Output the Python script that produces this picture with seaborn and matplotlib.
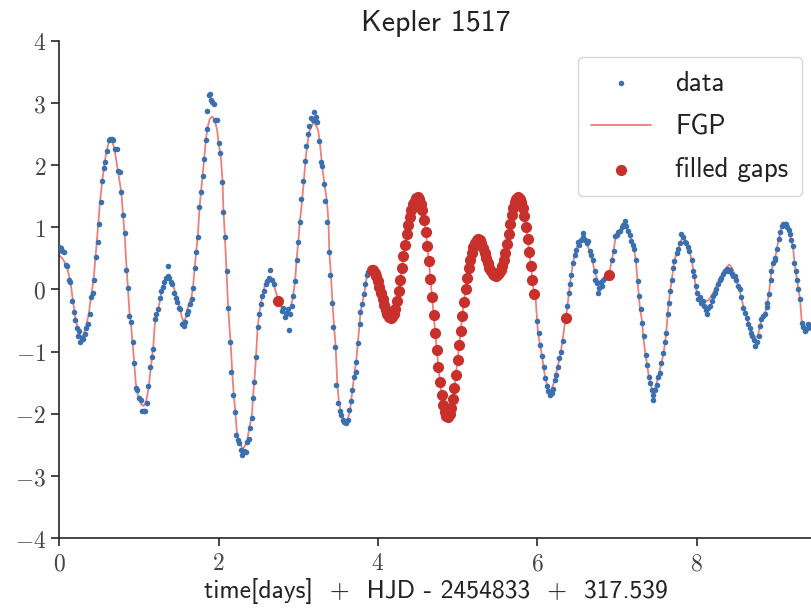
import matplotlib
matplotlib.use("Agg")
import matplotlib.pyplot as plt
import pandas as pd
import seaborn as sns
from matplotlib.ticker import FuncFormatter

DATA_PART1 = [
    (0.00, 0.68), (0.02, 0.66), (0.04, 0.62), (0.06, 0.60), (0.08, 0.40), (0.10, 0.38),
    (0.12, 0.16), (0.14, 0.12), (0.16, -0.18), (0.18, -0.36), (0.20, -0.49), (0.22, -0.62),
    (0.24, -0.75), (0.25, -0.66), (0.26, -0.84), (0.28, -0.78), (0.30, -0.80), (0.32, -0.72),
    (0.34, -0.62), (0.36, -0.55), (0.38, -0.40), (0.40, -0.12), (0.42, -0.06), (0.44, 0.15),
    (0.46, 0.52), (0.48, 0.76), (0.50, 1.05), (0.52, 1.40), (0.54, 1.75), (0.56, 1.95),
    (0.58, 2.05), (0.60, 2.22), (0.62, 2.40), (0.64, 2.42), (0.66, 2.42), (0.68, 2.40),
    (0.70, 2.26), (0.72, 2.25), (0.74, 1.90), (0.76, 1.89), (0.78, 1.57), (0.80, 1.20),
    (0.82, 0.90), (0.84, 0.32), (0.86, 0.02), (0.88, -0.42), (0.90, -0.52), (0.92, -0.85),
    (0.94, -1.18), (0.96, -1.58), (0.98, -1.62), (1.00, -1.74), (1.02, -1.78), (1.04, -1.95),
    (1.06, -1.95), (1.08, -1.95), (1.10, -1.82), (1.12, -1.55), (1.14, -1.24), (1.16, -1.08),
    (1.18, -0.95), (1.20, -0.48), (1.22, -0.40), (1.24, -0.32), (1.26, -0.14), (1.28, -0.02),
    (1.30, 0.04), (1.32, 0.12), (1.34, 0.18), (1.36, 0.22), (1.37, 0.37), (1.38, 0.18),
    (1.40, 0.12), (1.42, 0.08), (1.44, -0.05), (1.46, -0.14), (1.48, -0.20), (1.50, -0.30),
    (1.52, -0.32), (1.54, -0.55), (1.56, -0.58), (1.58, -0.52), (1.60, -0.40), (1.62, -0.35),
    (1.64, -0.24), (1.66, -0.16), (1.68, 0.03), (1.70, 0.35), (1.72, 0.60), (1.74, 0.85),
    (1.76, 1.32), (1.78, 1.57), (1.80, 1.82), (1.82, 2.10), (1.84, 2.40), (1.85, 2.58),
    (1.86, 2.87), (1.88, 3.12), (1.89, 3.15), (1.90, 3.05), (1.92, 3.02), (1.94, 2.98),
    (1.96, 2.72), (1.98, 2.72), (2.00, 2.35), (2.02, 2.20), (2.04, 1.73), (2.06, 1.24),
    (2.08, 0.84), (2.10, 0.29), (2.12, -0.29), (2.14, -0.84), (2.16, -1.32), (2.18, -1.69),
    (2.20, -1.97), (2.22, -2.34), (2.24, -2.42), (2.26, -2.47), (2.28, -2.58), (2.30, -2.66),
    (2.32, -2.60), (2.34, -2.62), (2.36, -2.45), (2.38, -2.40), (2.40, -2.22), (2.42, -2.06),
    (2.43, -1.74), (2.45, -1.48), (2.47, -1.08), (2.49, -0.61), (2.51, -0.40), (2.53, -0.24),
    (2.55, -0.10), (2.57, -0.02), (2.59, 0.08), (2.61, 0.14), (2.63, 0.18), (2.65, 0.32),
    (2.67, 0.15), (2.69, 0.08),
]

DATA_PART2 = [
    (2.79, -0.35), (2.81, -0.30), (2.83, -0.45), (2.85, -0.38), (2.87, -0.32), (2.88, -0.65),
    (2.90, -0.40), (2.92, -0.27), (2.94, -0.10), (2.96, 0.13), (2.98, 0.48), (3.00, 0.76),
    (3.02, 1.08), (3.04, 1.45), (3.06, 1.74), (3.08, 2.06), (3.10, 2.31), (3.12, 2.50),
    (3.14, 2.63), (3.16, 2.75), (3.18, 2.72), (3.20, 2.85), (3.22, 2.78), (3.24, 2.70),
    (3.26, 2.39), (3.28, 2.05), (3.30, 1.98), (3.32, 1.69), (3.34, 1.42), (3.36, 1.08),
    (3.38, 0.60), (3.40, 0.24), (3.42, -0.21), (3.44, -0.60), (3.46, -0.92), (3.48, -1.53),
    (3.50, -1.82), (3.52, -1.95), (3.54, -2.02), (3.56, -2.10), (3.58, -2.13), (3.60, -2.15),
    (3.62, -2.10), (3.64, -1.94), (3.66, -1.80), (3.68, -1.61), (3.70, -1.40), (3.72, -1.32),
    (3.73, -1.16), (3.75, -0.86), (3.77, -0.56), (3.78, -0.37), (3.80, -0.24), (3.82, -0.08),
    (3.84, 0.08), (3.86, 0.24), (3.88, 0.28),
]

DATA_PART3 = [
    (6.00, -0.50), (6.02, -0.70), (6.04, -0.90), (6.06, -1.07), (6.08, -1.24), (6.10, -1.42),
    (6.12, -1.55), (6.14, -1.64), (6.16, -1.70), (6.18, -1.67), (6.20, -1.60), (6.22, -1.45),
    (6.24, -1.38), (6.26, -1.24), (6.28, -1.10), (6.30, -1.00), (6.32, -0.83), (6.38, -0.27),
    (6.40, -0.05), (6.41, 0.08), (6.43, 0.24), (6.45, 0.43), (6.47, 0.55), (6.49, 0.64),
    (6.51, 0.76), (6.53, 0.72), (6.55, 0.80), (6.57, 0.85), (6.58, 0.91), (6.60, 0.80),
    (6.62, 0.75), (6.64, 0.78), (6.66, 0.62), (6.68, 0.55), (6.70, 0.48), (6.72, 0.30),
    (6.73, 0.16), (6.75, 0.10), (6.76, -0.05), (6.78, 0.02), (6.80, 0.12), (6.81, 0.05),
    (6.83, 0.15), (6.85, 0.18), (6.87, 0.20), (6.94, 0.48), (6.96, 0.62), (6.98, 0.86),
    (7.00, 0.88), (7.02, 0.92), (7.04, 0.94), (7.06, 1.00), (7.08, 1.04), (7.10, 1.10),
    (7.12, 1.02), (7.14, 0.94), (7.16, 0.88), (7.18, 0.78), (7.20, 0.72), (7.22, 0.65),
    (7.24, 0.48), (7.26, 0.13), (7.28, -0.10), (7.30, -0.32), (7.32, -0.54), (7.34, -0.75),
    (7.36, -1.05), (7.38, -1.22), (7.40, -1.40), (7.42, -1.50), (7.44, -1.61), (7.45, -1.70),
    (7.46, -1.77), (7.48, -1.62), (7.50, -1.53), (7.52, -1.40), (7.54, -1.34), (7.56, -1.18),
    (7.58, -1.02), (7.60, -0.85), (7.62, -0.70), (7.64, -0.40), (7.65, -0.22), (7.67, -0.02),
    (7.69, 0.16), (7.71, 0.35), (7.72, 0.46), (7.75, 0.58), (7.77, 0.65), (7.79, 0.75),
    (7.81, 0.89), (7.83, 0.85), (7.85, 0.76), (7.87, 0.75), (7.89, 0.68), (7.91, 0.62),
    (7.94, 0.48), (7.96, 0.30), (7.97, 0.21), (7.99, 0.05), (8.00, -0.05), (8.02, -0.16),
    (8.04, -0.12), (8.06, -0.22), (8.08, -0.18), (8.10, -0.27), (8.12, -0.33), (8.13, -0.40),
    (8.15, -0.30), (8.17, -0.27), (8.19, -0.18), (8.21, -0.11), (8.23, -0.05), (8.25, 0.00),
    (8.27, 0.08), (8.29, 0.16), (8.31, 0.18), (8.33, 0.25), (8.36, 0.30), (8.38, 0.33),
    (8.40, 0.30), (8.42, 0.32), (8.44, 0.25), (8.46, 0.22), (8.48, 0.21), (8.50, 0.15),
    (8.52, 0.05), (8.54, 0.00), (8.56, -0.12), (8.59, -0.30), (8.61, -0.38), (8.63, -0.46),
    (8.65, -0.55), (8.67, -0.62), (8.69, -0.70), (8.70, -0.75), (8.72, -0.82), (8.74, -0.91),
    (8.76, -0.85), (8.78, -0.75), (8.80, -0.58), (8.81, -0.48), (8.84, -0.42), (8.86, -0.40),
    (8.88, -0.28), (8.89, -0.22), (8.91, -0.08), (8.93, 0.15), (8.94, 0.30), (8.96, 0.43),
    (8.98, 0.48), (8.99, 0.51), (9.01, 0.65), (9.03, 0.81), (9.05, 0.92), (9.07, 1.02),
    (9.09, 1.05), (9.11, 1.06), (9.12, 1.05), (9.14, 1.00), (9.16, 0.95), (9.17, 0.89),
    (9.19, 0.80), (9.21, 0.70), (9.23, 0.43), (9.25, 0.30), (9.26, 0.16), (9.28, 0.00),
    (9.30, -0.16), (9.32, -0.54), (9.34, -0.60), (9.36, -0.67), (9.38, -0.63), (9.40, -0.55),
    (9.42, -0.59), (9.44, -0.62),
]

# GP prediction inside the long gap
GAP_FILL = [
    (3.92, 0.32), (3.94, 0.31), (3.96, 0.27), (3.98, 0.21), (4.00, 0.13), (4.02, 0.04),
    (4.04, -0.06), (4.06, -0.16), (4.08, -0.25), (4.10, -0.33), (4.12, -0.39), (4.14, -0.44),
    (4.16, -0.46), (4.18, -0.45), (4.20, -0.40), (4.22, -0.31), (4.24, -0.18), (4.26, -0.02),
    (4.28, 0.16), (4.30, 0.35), (4.32, 0.54), (4.34, 0.72), (4.36, 0.89), (4.38, 1.04),
    (4.40, 1.17), (4.42, 1.28), (4.44, 1.37), (4.46, 1.43), (4.48, 1.47), (4.50, 1.48),
    (4.52, 1.45), (4.54, 1.38), (4.56, 1.27), (4.58, 1.12), (4.60, 0.93), (4.62, 0.70),
    (4.64, 0.45), (4.66, 0.17), (4.68, -0.12), (4.70, -0.41), (4.72, -0.70), (4.74, -0.98),
    (4.76, -1.25), (4.78, -1.49), (4.80, -1.70), (4.82, -1.86), (4.84, -1.97), (4.86, -2.04),
    (4.88, -2.05), (4.90, -2.00), (4.92, -1.91), (4.94, -1.76), (4.96, -1.58), (4.98, -1.37),
    (5.00, -1.14), (5.02, -0.90), (5.04, -0.66), (5.06, -0.42), (5.08, -0.20), (5.10, 0.00),
    (5.12, 0.18), (5.14, 0.34), (5.16, 0.48), (5.18, 0.59), (5.20, 0.68), (5.22, 0.75),
    (5.24, 0.79), (5.26, 0.81), (5.28, 0.79), (5.30, 0.74), (5.32, 0.67), (5.34, 0.59),
    (5.36, 0.50), (5.38, 0.42), (5.40, 0.35), (5.42, 0.29), (5.44, 0.25), (5.46, 0.23),
    (5.48, 0.22), (5.50, 0.23), (5.52, 0.26), (5.54, 0.31), (5.56, 0.38), (5.58, 0.47),
    (5.60, 0.59), (5.62, 0.73), (5.64, 0.89), (5.66, 1.05), (5.68, 1.19), (5.70, 1.31),
    (5.72, 1.40), (5.74, 1.46), (5.76, 1.48), (5.78, 1.46), (5.80, 1.40), (5.82, 1.31),
    (5.84, 1.18), (5.86, 1.01), (5.88, 0.81), (5.90, 0.60), (5.92, 0.38), (5.94, 0.16),
    (5.96, -0.08),
]

# single missing cadences
SINGLE_FILLS = [(2.75, -0.18), (6.36, -0.46), (6.90, 0.24)]

# smooth FGP mean outside the long gap
FGP_PART1 = [
    (0.00, 0.55), (0.05, 0.48), (0.10, 0.35), (0.14, 0.12), (0.17, -0.16), (0.20, -0.45),
    (0.24, -0.66), (0.27, -0.76), (0.30, -0.74), (0.33, -0.62), (0.37, -0.40), (0.40, -0.10),
    (0.43, 0.15), (0.45, 0.45), (0.47, 0.75), (0.49, 1.05), (0.51, 1.40), (0.54, 1.74),
    (0.56, 1.97), (0.59, 2.20), (0.62, 2.36), (0.65, 2.40), (0.68, 2.32), (0.70, 2.20),
    (0.74, 1.88), (0.78, 1.55), (0.80, 1.20), (0.82, 0.90), (0.84, 0.45), (0.86, 0.05),
    (0.88, -0.35), (0.90, -0.55), (0.92, -0.85), (0.94, -1.16), (0.96, -1.50), (0.99, -1.72),
    (1.03, -1.85), (1.06, -1.87), (1.09, -1.80), (1.12, -1.60), (1.15, -1.25), (1.18, -0.92),
    (1.20, -0.55), (1.24, -0.35), (1.27, -0.12), (1.30, 0.03), (1.33, 0.14), (1.37, 0.18),
    (1.41, 0.12), (1.46, -0.05), (1.50, -0.22), (1.54, -0.45), (1.56, -0.52), (1.59, -0.45),
    (1.62, -0.26), (1.66, -0.12), (1.68, 0.05), (1.70, 0.35), (1.72, 0.62), (1.74, 0.88),
    (1.76, 1.30), (1.78, 1.58), (1.80, 1.84), (1.82, 2.12), (1.84, 2.40), (1.86, 2.60),
    (1.89, 2.74), (1.92, 2.78), (1.95, 2.72), (1.98, 2.58), (2.00, 2.36), (2.03, 2.10),
    (2.05, 1.73), (2.06, 1.30), (2.08, 0.84), (2.10, 0.29), (2.12, -0.29), (2.15, -0.84),
    (2.17, -1.30), (2.19, -1.68), (2.21, -1.97), (2.23, -2.30), (2.26, -2.45), (2.30, -2.56),
    (2.33, -2.52), (2.36, -2.42), (2.39, -2.20), (2.42, -2.00), (2.43, -1.75), (2.45, -1.46),
    (2.47, -1.08), (2.49, -0.62), (2.51, -0.40), (2.53, -0.24), (2.56, -0.05), (2.58, 0.06),
    (2.61, 0.15), (2.65, 0.18), (2.69, 0.08), (2.75, -0.17), (2.80, -0.32), (2.85, -0.38),
    (2.90, -0.32), (2.93, -0.15), (2.96, 0.13), (2.98, 0.48), (3.00, 0.76), (3.02, 1.08),
    (3.05, 1.45), (3.07, 1.74), (3.09, 2.06), (3.11, 2.30), (3.14, 2.55), (3.18, 2.66),
    (3.21, 2.67), (3.25, 2.56), (3.27, 2.38), (3.30, 1.98), (3.33, 1.69), (3.36, 1.42),
    (3.38, 1.08), (3.39, 0.60), (3.41, 0.24), (3.43, -0.21), (3.45, -0.60), (3.47, -0.92),
    (3.49, -1.50), (3.51, -1.80), (3.54, -2.00), (3.58, -2.12), (3.61, -2.14), (3.65, -1.95),
    (3.68, -1.62), (3.71, -1.32), (3.73, -1.12), (3.75, -0.84), (3.77, -0.56), (3.78, -0.38),
    (3.80, -0.24), (3.83, -0.06), (3.86, 0.20),
]

FGP_PART2 = [
    (5.98, -0.14), (6.01, -0.70), (6.06, -1.07), (6.08, -1.24), (6.10, -1.42), (6.14, -1.60),
    (6.17, -1.64), (6.21, -1.50), (6.25, -1.28), (6.29, -1.06), (6.32, -0.80), (6.36, -0.46),
    (6.38, -0.27), (6.41, 0.08), (6.43, 0.26), (6.45, 0.43), (6.48, 0.62), (6.52, 0.76),
    (6.57, 0.82), (6.62, 0.76), (6.66, 0.60), (6.70, 0.42), (6.73, 0.25), (6.77, 0.12),
    (6.82, 0.12), (6.87, 0.18), (6.90, 0.24), (6.94, 0.48), (6.98, 0.80), (7.04, 0.96),
    (7.10, 1.02), (7.15, 0.92), (7.19, 0.76), (7.22, 0.62), (7.24, 0.45), (7.26, 0.13),
    (7.29, -0.30), (7.32, -0.54), (7.33, -0.75), (7.36, -1.05), (7.40, -1.38), (7.44, -1.60),
    (7.47, -1.62), (7.50, -1.50), (7.53, -1.34), (7.56, -1.18), (7.59, -1.00), (7.62, -0.70),
    (7.65, -0.22), (7.69, 0.16), (7.72, 0.46), (7.77, 0.65), (7.81, 0.80), (7.85, 0.82),
    (7.89, 0.70), (7.94, 0.48), (7.97, 0.21), (8.00, -0.02), (8.03, -0.12), (8.07, -0.18),
    (8.11, -0.20), (8.15, -0.17), (8.19, -0.10), (8.23, 0.00), (8.28, 0.14), (8.34, 0.30),
    (8.41, 0.40), (8.45, 0.34), (8.48, 0.22), (8.54, 0.00), (8.59, -0.28), (8.63, -0.45),
    (8.67, -0.60), (8.70, -0.72), (8.73, -0.78), (8.77, -0.74), (8.81, -0.52), (8.86, -0.38),
    (8.89, -0.22), (8.91, -0.06), (8.94, 0.28), (8.96, 0.42), (8.99, 0.52), (9.03, 0.80),
    (9.07, 1.00), (9.12, 1.04), (9.17, 0.88), (9.21, 0.70), (9.23, 0.44), (9.26, 0.16),
    (9.28, 0.00), (9.30, -0.16), (9.32, -0.50), (9.37, -0.64), (9.42, -0.60), (9.47, -0.58),
]

X_TICKS = [0, 2, 4, 6, 8]
Y_TICKS = [-4, -3, -2, -1, 0, 1, 2, 3, 4]

BLUE = "#3a6fb0"
RED = "#c8302c"
LINE = "#ee7f7a"


def to_frame(*parts):
    rows = [row for part in parts for row in part]
    return pd.DataFrame(rows, columns=["t", "flux"])


data_df = to_frame(DATA_PART1, DATA_PART2, DATA_PART3)
fgp_df = to_frame(FGP_PART1, GAP_FILL, FGP_PART2)
fill_df = to_frame(SINGLE_FILLS, GAP_FILL)

sns.set_style("ticks")
plt.rcParams["mathtext.fontset"] = "cm"

fig = plt.figure(figsize=(8.12, 6.11), dpi=100)
ax = fig.add_axes([0.073, 0.119, 0.927, 0.8145])

sns.scatterplot(data=data_df, x="t", y="flux", ax=ax, s=16, color=BLUE,
                linewidth=0, label="data", zorder=3)
sns.lineplot(data=fgp_df, x="t", y="flux", ax=ax, sort=False, estimator=None,
             color=LINE, linewidth=1.3, label="FGP", zorder=2)
sns.scatterplot(data=fill_df, x="t", y="flux", ax=ax, s=65, color=RED,
                linewidth=0, label="filled gaps", zorder=4)

ax.set_xlim(0, 9.45)
ax.set_ylim(-4, 4)
ax.set_xticks(X_TICKS)
ax.set_yticks(Y_TICKS)
# LaTeX-style tick labels
ax.xaxis.set_major_formatter(FuncFormatter(lambda v, pos: f"${v:g}$"))
ax.yaxis.set_major_formatter(FuncFormatter(lambda v, pos: f"${v:g}$"))
ax.tick_params(labelsize=17, length=6, width=1.2, labelcolor="#444444", color="#262626")
for side in ("left", "bottom"):
    ax.spines[side].set_linewidth(1.2)
    ax.spines[side].set_color("#262626")
sns.despine(ax=ax)

ax.set_title("Kepler 1517", fontfamily="cmss10", fontsize=21.5, color="#222222", pad=7)
ax.set_xlabel("time[days]  +  HJD - 2454833  +  317.539", fontfamily="cmss10",
              fontsize=18.4, color="#222222", labelpad=2)
ax.set_ylabel("")

leg = ax.legend(loc="upper right", bbox_to_anchor=(0.9867, 0.967), borderaxespad=0,
                prop={"family": "cmss10", "size": 19.5}, handlelength=2.2,
                labelspacing=0.68, borderpad=0.5, handletextpad=0.9,
                frameon=True, fancybox=True)
leg.get_frame().set_edgecolor("#cccccc")
for txt in leg.get_texts():
    txt.set_color("#222222")

fig.savefig("out.png", dpi=100)
